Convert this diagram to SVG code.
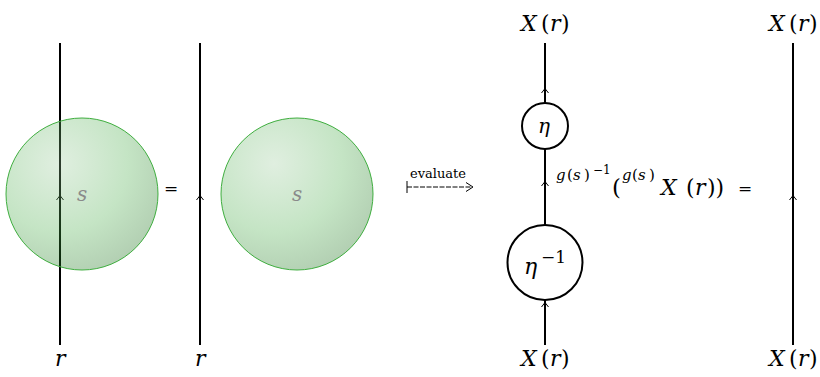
<svg xmlns="http://www.w3.org/2000/svg" width="820" height="377" viewBox="0 0 820 377">
<defs>
<radialGradient id="ball" cx="0.35" cy="0.3" r="0.75">
<stop offset="0" stop-color="#96c896" stop-opacity="0.3"/>
<stop offset="0.6" stop-color="#48ac48" stop-opacity="0.32"/>
<stop offset="1" stop-color="#106a10" stop-opacity="0.32"/>
</radialGradient>
</defs>
<g id="connectors" stroke="#000" fill="none">
<line stroke-width="2" x1="60" y1="43" x2="60" y2="345"/>
<path stroke-width="1" d="M56.5,200 L60,195.5 L63.5,200"/>
<line stroke-width="2" x1="200" y1="43" x2="200" y2="345"/>
<path stroke-width="1" d="M196.5,200 L200,195.5 L203.5,200"/>
<line stroke-width="2" x1="545" y1="43" x2="545" y2="103"/>
<path stroke-width="1" d="M541.5,93 L545,88.5 L548.5,93"/>
<line stroke-width="2" x1="545" y1="149" x2="545" y2="225"/>
<path stroke-width="1" d="M541.5,186 L545,181.5 L548.5,186"/>
<line stroke-width="2" x1="545" y1="300" x2="545" y2="345"/>
<path stroke-width="1" d="M541.5,307 L545,302.5 L548.5,307"/>
<line stroke-width="2" x1="793" y1="43" x2="793" y2="345"/>
<path stroke-width="1" d="M789.5,200 L793,195.5 L796.5,200"/>
<g id="evaluate-arrow" stroke-width="1">
<line x1="407" y1="181" x2="407" y2="193"/>
<line x1="407" y1="187" x2="472" y2="187" stroke-dasharray="5,1.5"/>
<path d="M466,182.5 L473,187 L466,191.5"/>
</g>
</g>
<text x="438" y="178" font-size="13" text-anchor="middle" font-family="DejaVu Serif" fill="#000">evaluate</text>
<g id="ball1">
<circle cx="82" cy="194" r="76" fill="url(#ball)" stroke="#3fae3f" stroke-width="1"/>
<text x="77" y="201" font-size="20" font-style="italic" font-family="DejaVu Serif" fill="#8a8a8a">s</text>
</g>
<g id="ball2">
<circle cx="297" cy="194" r="76" fill="url(#ball)" stroke="#3fae3f" stroke-width="1"/>
<text x="292" y="201" font-size="20" font-style="italic" font-family="DejaVu Serif" fill="#8a8a8a">s</text>
</g>
<g id="eq1"><text x="164" y="194" font-size="17" font-family="DejaVu Serif" fill="#000">=</text></g>
<g id="eq2"><text x="738" y="194" font-size="17" font-family="DejaVu Serif" fill="#000">=</text></g>
<g id="label-r1"><text x="55" y="366" font-size="22" font-style="italic" font-family="DejaVu Serif" fill="#000">r</text></g>
<g id="label-r2"><text x="195" y="366" font-size="22" font-style="italic" font-family="DejaVu Serif" fill="#000">r</text></g>
<g id="eta">
<circle cx="545" cy="126" r="23" fill="#fff" stroke="#000" stroke-width="2"/>
<text x="538" y="133" font-size="20" font-style="italic" font-family="DejaVu Serif" fill="#000">η</text>
</g>
<g id="eta-inv">
<circle cx="545" cy="262.5" r="37.5" fill="#fff" stroke="#000" stroke-width="2"/>
<text x="524" y="274" font-size="22" font-style="italic" font-family="DejaVu Serif" fill="#000">η</text>
<text x="541" y="263" font-size="17" font-family="DejaVu Serif" fill="#000">−1</text>
</g>
<g id="mid-label" font-family="DejaVu Serif" fill="#000">
<text y="180" font-size="15"><tspan x="556" font-style="italic">g</tspan><tspan x="567">(</tspan><tspan x="573" font-style="italic">s</tspan><tspan x="584">)</tspan></text>
<text x="593" y="174" font-size="12">−1</text>
<text x="612" y="195" font-size="23">(</text>
<text y="180" font-size="15"><tspan x="622" font-style="italic">g</tspan><tspan x="632">(</tspan><tspan x="638" font-style="italic">s</tspan><tspan x="649">)</tspan></text>
<text y="195" font-size="22"><tspan x="661" font-style="italic">X</tspan><tspan x="686">(</tspan><tspan x="695" font-style="italic">r</tspan><tspan x="707">))</tspan></text>
</g>
<g id="label-top1" font-family="DejaVu Serif" fill="#000"><text y="31" font-size="22"><tspan x="521" font-style="italic">X</tspan><tspan x="541">(</tspan><tspan x="550" font-style="italic">r</tspan><tspan x="561">)</tspan></text></g>
<g id="label-bot1" font-family="DejaVu Serif" fill="#000"><text y="366" font-size="22"><tspan x="521" font-style="italic">X</tspan><tspan x="541">(</tspan><tspan x="550" font-style="italic">r</tspan><tspan x="561">)</tspan></text></g>
<g id="label-top2" font-family="DejaVu Serif" fill="#000"><text y="31" font-size="22"><tspan x="769" font-style="italic">X</tspan><tspan x="789">(</tspan><tspan x="798" font-style="italic">r</tspan><tspan x="809">)</tspan></text></g>
<g id="label-bot2" font-family="DejaVu Serif" fill="#000"><text y="366" font-size="22"><tspan x="769" font-style="italic">X</tspan><tspan x="789">(</tspan><tspan x="798" font-style="italic">r</tspan><tspan x="809">)</tspan></text></g>
</svg>
